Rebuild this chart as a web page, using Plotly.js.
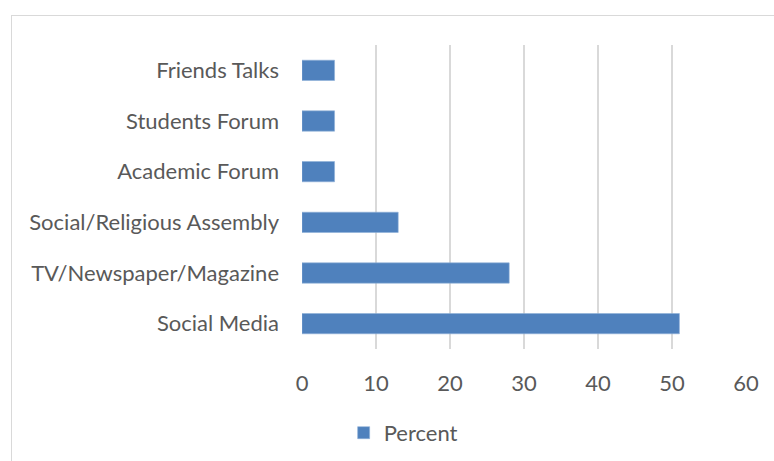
<!DOCTYPE html>
<html>
<head>
<meta charset="utf-8">
<script src="https://cdn.plot.ly/plotly-3.0.1.min.js"></script>
<style>
  html, body { margin: 0; padding: 0; background: #ffffff; }
  #wrap { position: relative; width: 774px; height: 461px; overflow: hidden; }
  #chart { position: absolute; left: 0; top: 0; width: 774px; height: 461px; }
  #frame { position: absolute; left: 11px; top: 15px; width: 800px; height: 500px;
           border: 1px solid #d9d9d9; pointer-events: none; }
</style>
</head>
<body>
<div id="wrap">
  <div id="chart"></div>
  <div id="frame"></div>
</div>
<script>
// Categories listed from bottom to top
const categories = [
  "Social Media",
  "TV/Newspaper/Magazine",
  "Social/Religious Assembly",
  "Academic Forum",
  "Students Forum",
  "Friends Talks"
];
const percentValues = [51, 28, 13, 4.4, 4.4, 4.4];
const xTickValues = [0, 10, 20, 30, 40, 50, 60];
const seriesName = "Percent";

const fontFamily = "Lato, 'Open Sans', 'Liberation Sans', sans-serif";
const textColor = "#595959";
const fontSize = 22;

const trace = {
  type: "bar",
  orientation: "h",
  y: categories,
  x: percentValues,
  name: seriesName,
  marker: { color: "#4f81bd", line: { color: "#8fb0d8", width: 0.6 } },
  hoverinfo: "x+y"
};

const layout = {
  width: 774,
  height: 461,
  margin: { l: 302, r: 28, t: 45, b: 112, autoexpand: false },
  paper_bgcolor: "rgba(0,0,0,0)",
  plot_bgcolor: "rgba(0,0,0,0)",
  bargap: 0.6,
  showlegend: true,
  font: { family: fontFamily, size: fontSize, color: textColor },
  xaxis: {
    range: [0, 60],
    tickmode: "array",
    tickvals: xTickValues,
    ticktext: xTickValues.map(String),
    showgrid: true,
    gridcolor: "#d9d9d9",
    gridwidth: 1.5,
    zeroline: false,
    showline: false,
    ticks: "",
    ticklabelstandoff: 19,
    tickfont: { family: fontFamily, size: fontSize, color: textColor },
    fixedrange: true
  },
  yaxis: {
    type: "category",
    showgrid: false,
    zeroline: false,
    showline: false,
    ticks: "",
    ticklabelstandoff: 22,
    tickfont: { family: fontFamily, size: fontSize, color: textColor },
    fixedrange: true
  },
  legend: {
    orientation: "h",
    xref: "container",
    yref: "container",
    x: 0.444,
    xanchor: "left",
    y: 0.061,
    yanchor: "middle",
    font: { family: fontFamily, size: fontSize, color: textColor },
    bgcolor: "rgba(0,0,0,0)"
  }
};

Plotly.newPlot("chart", [trace], layout, { displayModeBar: false, staticPlot: true });
</script>
</body>
</html>
